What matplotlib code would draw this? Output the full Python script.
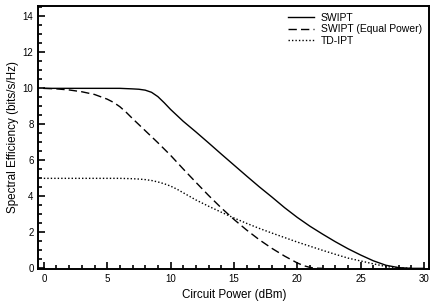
import numpy as np
import matplotlib.pyplot as plt
from matplotlib.ticker import MultipleLocator

plt.rcParams['font.family'] = ['Liberation Sans', 'DejaVu Sans']

# circuit power (dBm) and spectral efficiency (bits/s/Hz)
p_swipt = [0, 1, 2, 3, 4, 5, 6, 7, 7.5, 8, 8.5, 9, 9.5, 10, 10.5, 11, 12, 13,
           14, 15, 16, 17, 18, 19, 20, 21, 22, 23, 24, 25, 26, 27, 28, 29, 30]
swipt = [10.0, 10.0, 10.0, 10.0, 10.0, 10.0, 10.0, 9.97, 9.95, 9.9, 9.78,
         9.54, 9.2, 8.83, 8.5, 8.17, 7.58, 6.97, 6.35, 5.74, 5.13, 4.53,
         3.96, 3.37, 2.83, 2.34, 1.9, 1.48, 1.09, 0.74, 0.42, 0.17, 0.04,
         0.0, 0.0]

p_equal = [0, 1, 2, 3, 4, 5, 5.5, 6, 6.5, 7, 8, 9, 10, 11, 12, 13, 14, 15,
           16, 17, 18, 19, 20, 20.5, 21, 21.5, 22]
swipt_equal = [10.0, 9.97, 9.91, 9.81, 9.66, 9.4, 9.22, 8.98, 8.67, 8.32,
               7.65, 6.98, 6.28, 5.52, 4.78, 4.05, 3.36, 2.72, 2.13, 1.59,
               1.11, 0.68, 0.3, 0.15, 0.05, 0.01, 0.0]

p_tdipt = [0, 1, 2, 3, 4, 5, 6, 7, 7.5, 8, 8.5, 9, 9.5, 10, 10.5, 11, 12,
           13, 14, 15, 16, 17, 18, 19, 20, 21, 22, 23, 24, 25, 26, 27, 28, 29]
tdipt = [5.0, 5.0, 5.0, 5.0, 5.0, 5.0, 5.0, 4.98, 4.96, 4.93, 4.88, 4.8,
         4.7, 4.57, 4.4, 4.2, 3.8, 3.45, 3.12, 2.8, 2.5, 2.22, 1.96, 1.71,
         1.46, 1.23, 1.0, 0.78, 0.57, 0.41, 0.25, 0.1, 0.03, 0.0]

fig = plt.figure(figsize=(4.36, 3.08), dpi=100)
ax = fig.add_axes([0.088, 0.127, 0.897, 0.855])

ax.plot(p_swipt, swipt, color='black', lw=1.0, label='SWIPT')
ax.plot(p_equal, swipt_equal, color='black', lw=1.0, dashes=(6, 3),
        label='SWIPT (Equal Power)')
ax.plot(p_tdipt, tdipt, color='black', lw=1.0, dashes=(1, 1.5),
        label='TD-IPT')

ax.set_xlim(-0.43, 30.43)
ax.set_ylim(-0.03, 14.6)
ax.xaxis.set_major_locator(MultipleLocator(5))
ax.xaxis.set_minor_locator(MultipleLocator(1))
ax.yaxis.set_major_locator(MultipleLocator(2))
ax.yaxis.set_minor_locator(MultipleLocator(0.5))
ax.tick_params(which='both', direction='in', top=False, right=False,
               labelsize=7, width=1.2)
ax.tick_params(which='major', length=5)
ax.tick_params(which='minor', length=3)
for s in ax.spines.values():
    s.set_linewidth(1.4)

ax.set_xlabel('Circuit Power (dBm)', fontsize=8.4, labelpad=4)
ax.set_ylabel('Spectral Efficiency (bits/s/Hz)', fontsize=8.4, labelpad=3)

ax.legend(loc='upper right', frameon=False, fontsize=7.5, handlelength=2.5,
          labelspacing=0.15, borderaxespad=0.3, handletextpad=0.65)

fig.savefig('out.png', dpi=100)
